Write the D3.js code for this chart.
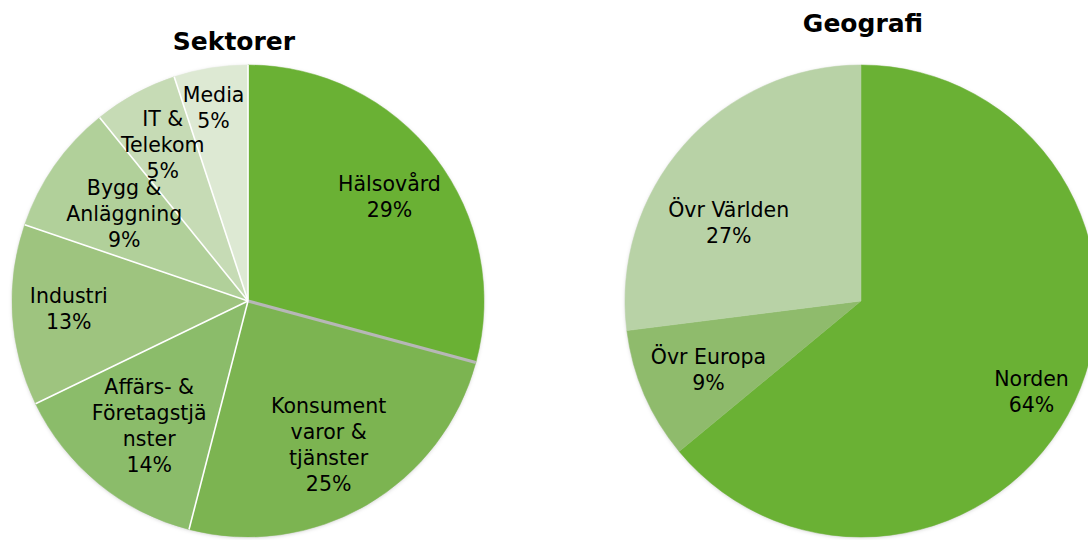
<!DOCTYPE html>
<html>
<head>
<meta charset="utf-8">
<script src="https://cdn.jsdelivr.net/npm/d3@7"></script>
<style>
	body { margin: 0; background: #fff; }
	svg { display: block; }
	text { font-family: "DejaVu Sans", Verdana, sans-serif; fill: #000; }
</style>
</head>
<body>
<div id="chart"></div>
<script>
// Sektorer
var sectorNames = [["Hälsovård"], ["Konsument", "varor &", "tjänster"], ["Affärs- &", "Företagstjä", "nster"],
	["Industri"], ["Bygg &", "Anläggning"], ["IT &", "Telekom"], ["Media"]]
var sectorShares = [29.4, 25, 13.9, 12.5, 9, 5.8, 5.1]
var sectorLabels = ["29%", "25%", "14%", "13%", "9%", "5%", "5%"]
var sectorColors = ["#6ab134", "#7cb451", "#8bbc6a", "#9ec47f", "#b1d09a", "#c6dbb5", "#dde9d3"]

// Geografi
var geoNames = [["Norden"], ["Övr Europa"], ["Övr Världen"]]
var geoShares = [64, 9, 27]
var geoLabels = ["64%", "9%", "27%"]
var geoColors = ["#6ab134", "#8fbb6c", "#b8d2a6"]

var width = 1088
var height = 540
var radius = 236
var lineH = 26

var svg = d3.select('#chart').append('svg')
	.attr('width', width)
	.attr('height', height)

// soft shadow like the office chart
var defs = svg.append('defs')
var f = defs.append('filter').attr('id', 'shadow')
	.attr('x', '-10%').attr('y', '-10%').attr('width', '120%').attr('height', '120%')
f.append('feDropShadow')
	.attr('dx', 0).attr('dy', 1).attr('stdDeviation', 2)
	.attr('flood-color', '#000').attr('flood-opacity', 0.25)

// label placement: radius fraction and angle nudge (deg)
var sectorLabelPos = [[0.745, 1], [0.70, 1], [0.675, -1], [0.76, 1], [0.64, 0], [0.755, 0], [0.83, -1]]
var geoLabelPos = [[0.82, 3], [0.71, -1], [0.65, -11]]

function drawPie(cx, cy, title, titleY, names, shares, labels, colors, labelPos, strokes) {
	var g = svg.append('g')
		.attr('transform', 'translate(' + cx + ',' + cy + ')')

	var pie = d3.pie().sort(null).value(function(d) { return d })
	var arcs = pie(shares)
	var arc = d3.arc().innerRadius(0).outerRadius(radius)

	g.append('circle').attr('r', radius - 1).attr('fill', '#fff').attr('filter', 'url(#shadow)')

	g.selectAll('path.slice')
		.data(arcs)
		.join('path')
			.attr('class', 'slice')
			.attr('d', arc)
			.attr('fill', function(d, i) { return colors[i] })
			.attr('stroke', function(d, i) { return colors[i] })
			.attr('stroke-width', 0.5)

	// separator lines along slice starts
	if (strokes) {
		g.selectAll('line.sep')
			.data(arcs)
			.join('line')
				.attr('class', 'sep')
				.attr('x1', 0).attr('y1', 0)
				.attr('x2', function(d) { return radius * Math.sin(d.startAngle) })
				.attr('y2', function(d) { return -radius * Math.cos(d.startAngle) })
				.attr('stroke', function(d, i) { return strokes[i] })
				.attr('stroke-width', function(d, i) { return strokes[i] == '#b7b7b7' ? 3 : 1.6 })
	}

	var lab = g.selectAll('text.lab')
		.data(arcs)
		.join('text')
			.attr('class', 'lab')
			.attr('text-anchor', 'middle')
			.style('font-size', '20.5px')
			.attr('transform', function(d, i) {
				var a = (d.startAngle + d.endAngle) / 2 + labelPos[i][1] * Math.PI / 180
				var r = radius * labelPos[i][0]
				return 'translate(' + (r * Math.sin(a)) + ',' + (-r * Math.cos(a)) + ')'
			})

	lab.each(function(d, i) {
		var lines = names[i].concat([labels[i]])
		var t = d3.select(this)
		var y0 = -(lines.length - 1) * lineH / 2 + 7
		lines.forEach(function(s, k) {
			t.append('tspan').attr('x', 0).attr('y', y0 + k * lineH).text(s)
		})
	})

	svg.append('text')
		.attr('x', cx + (title == 'Sektorer' ? -14 : 2))
		.attr('y', titleY)
		.attr('text-anchor', 'middle')
		.style('font-size', '25px')
		.style('font-weight', 'bold')
		.text(title)
}

// gray line between Hälsovård and Konsument, white elsewhere
var sectorStrokes = ['#ffffff', '#b7b7b7', '#ffffff', '#ffffff', '#ffffff', '#ffffff', '#ffffff']

drawPie(248, 301, 'Sektorer', 50, sectorNames, sectorShares, sectorLabels, sectorColors, sectorLabelPos, sectorStrokes)
drawPie(861, 301, 'Geografi', 32, geoNames, geoShares, geoLabels, geoColors, geoLabelPos, null)
</script>
</body>
</html>
